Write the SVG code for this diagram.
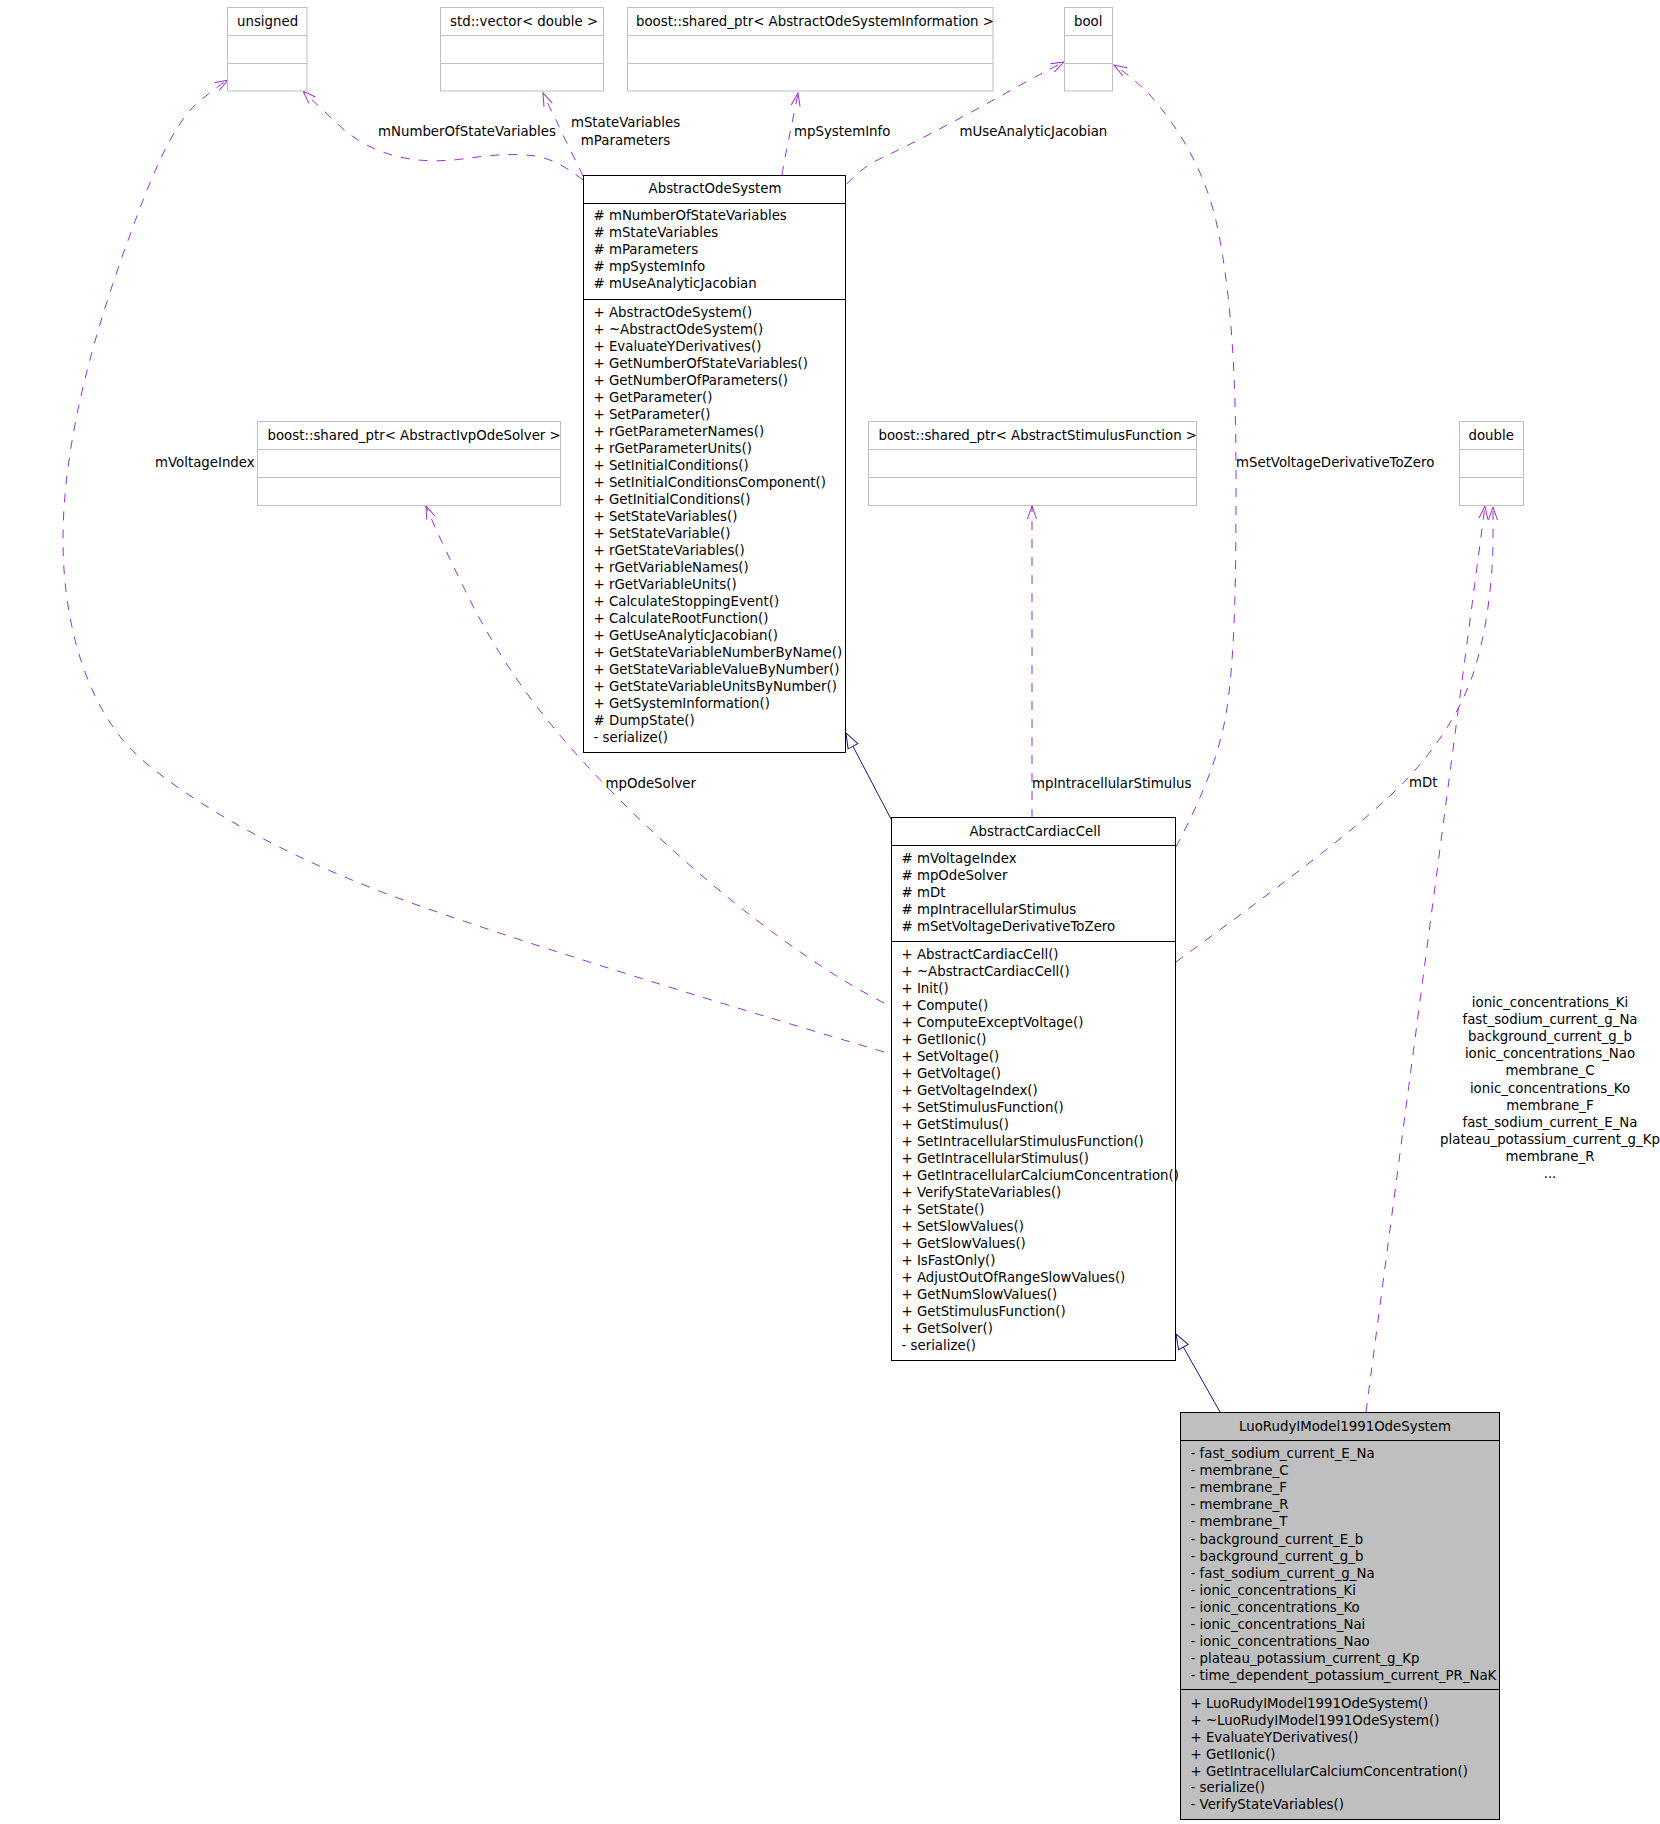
<svg xmlns="http://www.w3.org/2000/svg" width="1660" height="1824" viewBox="0 0 1660 1824">
<style>
text{font-family:"DejaVu Sans","Liberation Sans",sans-serif;font-size:13.33px;fill:#000}
.n{fill:#fff;stroke:#000;stroke-width:1}
.h{fill:#bfbfbf;stroke:#000;stroke-width:1}
.g{fill:#fff;stroke:#bfbfbf;stroke-width:1}
.s{stroke:#000;stroke-width:1}
.gs{stroke:#bfbfbf;stroke-width:1}
.u{fill:none;stroke:#9a32cd;stroke-width:1;stroke-dasharray:9,9;marker-end:url(#open)}
.i{fill:none;stroke:#191970;stroke-width:1;marker-end:url(#tri)}
.c{text-anchor:middle}
</style>
<defs>
<marker id="open" markerUnits="userSpaceOnUse" markerWidth="16" markerHeight="12" viewBox="-1 -6 16 12" refX="13" refY="0" orient="auto">
<path d="M0,-4.5 L13,0 L0,4.5" fill="none" stroke="#9a32cd" stroke-width="1"/>
</marker>
<marker id="tri" markerUnits="userSpaceOnUse" markerWidth="18" markerHeight="14" viewBox="-1 -7 18 14" refX="15" refY="0" orient="auto">
<path d="M0,-5.5 L15,0 L0,5.5 Z" fill="#fff" stroke="#191970" stroke-width="1"/>
</marker>
</defs>
<rect width="1660" height="1824" fill="#fff"/>

<g id="connectors">
<path class="u" d="M583,180 C565,166 552,159 535,156 C515,153 490,155 470,158 C450,161 430,162 410,159 C385,155 360,145 340,126 C325,112 312,100 303,91"/>
<path class="u" d="M583,176 C578,165 565,140 556,120 C550,108 546,100 543,93"/>
<path class="u" d="M782,175 C785,155 793,120 798,93"/>
<path class="u" d="M847,184 C855,175 865,165 890,154 C930,135 990,102 1015,88 C1035,77 1050,69 1064,62"/>
<path class="u" d="M1176,847 C1195,810 1215,770 1225,720 C1236,660 1236,560 1236,480 C1236,380 1232,300 1218,230 C1208,180 1185,135 1150,95 C1135,80 1122,70 1114,65"/>
<path class="u" d="M1032,818 L1032,506"/>
<path class="u" d="M1176,962 C1240,915 1330,850 1380,805 C1420,770 1455,725 1472,677 C1485,640 1492,590 1493,545 L1493,507"/>
<path class="u" d="M1366,1412 L1485,506"/>
<path class="u" d="M884,1052 C750,1012 560,955 420,906 C300,864 200,810 140,758 C85,708 63,620 63,540 C63,440 95,330 130,235 C150,180 170,130 195,105 C208,94 218,86 228,80"/>
<path class="u" d="M884,1003 C800,960 700,880 620,800 C560,740 510,680 470,600 C455,570 438,535 426,506"/>
<path class="i" d="M891,819 L846,733"/>
<path class="i" d="M1220,1412 L1176,1334"/>
<text x="378" y="135.5">mNumberOfStateVariables</text>
<text class="c" x="625.5" y="127">mStateVariables</text>
<text class="c" x="625.5" y="144.5">mParameters</text>
<text x="794" y="135.5">mpSystemInfo</text>
<text x="959.5" y="135.5">mUseAnalyticJacobian</text>
<text x="1236" y="466.5">mSetVoltageDerivativeToZero</text>
<text x="155" y="466.5">mVoltageIndex</text>
<text x="605.5" y="787.5">mpOdeSolver</text>
<text x="1032" y="787.5">mpIntracellularStimulus</text>
<text x="1409" y="787">mDt</text>
<text class="c" x="1550"><tspan x="1550" y="1006.7">ionic_concentrations_Ki</tspan><tspan x="1550" y="1023.9">fast_sodium_current_g_Na</tspan><tspan x="1550" y="1041">background_current_g_b</tspan><tspan x="1550" y="1058.2">ionic_concentrations_Nao</tspan><tspan x="1550" y="1075.4">membrane_C</tspan><tspan x="1550" y="1092.6">ionic_concentrations_Ko</tspan><tspan x="1550" y="1109.7">membrane_F</tspan><tspan x="1550" y="1126.9">fast_sodium_current_E_Na</tspan><tspan x="1550" y="1144.1">plateau_potassium_current_g_Kp</tspan><tspan x="1550" y="1161.2">membrane_R</tspan><tspan x="1550" y="1178.4">...</tspan></text>
</g>

<g id="node-unsigned">
<rect class="g" x="227.5" y="7.5" width="79.5" height="83.5"/>
<line class="gs" x1="227.5" y1="35.5" x2="307" y2="35.5"/>
<line class="gs" x1="227.5" y1="63.5" x2="307" y2="63.5"/>
<text x="237" y="25.5">unsigned</text>
</g>
<g id="node-vector">
<rect class="g" x="440.5" y="7.5" width="163" height="83.5"/>
<line class="gs" x1="440.5" y1="35.5" x2="603.5" y2="35.5"/>
<line class="gs" x1="440.5" y1="63.5" x2="603.5" y2="63.5"/>
<text x="450" y="25.5">std::vector&lt; double &gt;</text>
</g>
<g id="node-sysinfo">
<rect class="g" x="627.5" y="7.5" width="365.5" height="83.5"/>
<line class="gs" x1="627.5" y1="35.5" x2="993" y2="35.5"/>
<line class="gs" x1="627.5" y1="63.5" x2="993" y2="63.5"/>
<text x="636" y="25.5">boost::shared_ptr&lt; AbstractOdeSystemInformation &gt;</text>
</g>
<g id="node-bool">
<rect class="g" x="1064.5" y="7.5" width="48" height="83.5"/>
<line class="gs" x1="1064.5" y1="35.5" x2="1112.5" y2="35.5"/>
<line class="gs" x1="1064.5" y1="63.5" x2="1112.5" y2="63.5"/>
<text x="1074" y="25.5">bool</text>
</g>
<g id="node-solver">
<rect class="g" x="257.5" y="421.5" width="303" height="84"/>
<line class="gs" x1="257.5" y1="449.5" x2="560.5" y2="449.5"/>
<line class="gs" x1="257.5" y1="477.5" x2="560.5" y2="477.5"/>
<text x="267.5" y="440">boost::shared_ptr&lt; AbstractIvpOdeSolver &gt;</text>
</g>
<g id="node-stimulus">
<rect class="g" x="868.5" y="421.5" width="328" height="84"/>
<line class="gs" x1="868.5" y1="449.5" x2="1196.5" y2="449.5"/>
<line class="gs" x1="868.5" y1="477.5" x2="1196.5" y2="477.5"/>
<text x="878.5" y="440">boost::shared_ptr&lt; AbstractStimulusFunction &gt;</text>
</g>
<g id="node-double">
<rect class="g" x="1459.5" y="421.5" width="64" height="84"/>
<line class="gs" x1="1459.5" y1="449.5" x2="1523.5" y2="449.5"/>
<line class="gs" x1="1459.5" y1="477.5" x2="1523.5" y2="477.5"/>
<text x="1468.5" y="440">double</text>
</g>

<g id="node-AbstractOdeSystem">
<rect class="n" x="583.5" y="175.5" width="262" height="577"/>
<line class="s" x1="583.5" y1="203.5" x2="845.5" y2="203.5"/>
<line class="s" x1="583.5" y1="299.5" x2="845.5" y2="299.5"/>
<text class="c" x="715" y="193">AbstractOdeSystem</text>
<text>
<tspan x="593.5" y="220"># mNumberOfStateVariables</tspan>
<tspan x="593.5" y="237"># mStateVariables</tspan>
<tspan x="593.5" y="254"># mParameters</tspan>
<tspan x="593.5" y="271"># mpSystemInfo</tspan>
<tspan x="593.5" y="288"># mUseAnalyticJacobian</tspan>
<tspan x="593.5" y="316.5">+ AbstractOdeSystem()</tspan>
<tspan x="593.5" y="333.5">+ ~AbstractOdeSystem()</tspan>
<tspan x="593.5" y="350.5">+ EvaluateYDerivatives()</tspan>
<tspan x="593.5" y="367.5">+ GetNumberOfStateVariables()</tspan>
<tspan x="593.5" y="384.5">+ GetNumberOfParameters()</tspan>
<tspan x="593.5" y="401.5">+ GetParameter()</tspan>
<tspan x="593.5" y="418.5">+ SetParameter()</tspan>
<tspan x="593.5" y="435.5">+ rGetParameterNames()</tspan>
<tspan x="593.5" y="452.5">+ rGetParameterUnits()</tspan>
<tspan x="593.5" y="469.5">+ SetInitialConditions()</tspan>
<tspan x="593.5" y="486.5">+ SetInitialConditionsComponent()</tspan>
<tspan x="593.5" y="503.5">+ GetInitialConditions()</tspan>
<tspan x="593.5" y="520.5">+ SetStateVariables()</tspan>
<tspan x="593.5" y="537.5">+ SetStateVariable()</tspan>
<tspan x="593.5" y="554.5">+ rGetStateVariables()</tspan>
<tspan x="593.5" y="571.5">+ rGetVariableNames()</tspan>
<tspan x="593.5" y="588.5">+ rGetVariableUnits()</tspan>
<tspan x="593.5" y="605.5">+ CalculateStoppingEvent()</tspan>
<tspan x="593.5" y="622.5">+ CalculateRootFunction()</tspan>
<tspan x="593.5" y="639.5">+ GetUseAnalyticJacobian()</tspan>
<tspan x="593.5" y="656.5">+ GetStateVariableNumberByName()</tspan>
<tspan x="593.5" y="673.5">+ GetStateVariableValueByNumber()</tspan>
<tspan x="593.5" y="690.5">+ GetStateVariableUnitsByNumber()</tspan>
<tspan x="593.5" y="707.5">+ GetSystemInformation()</tspan>
<tspan x="593.5" y="724.5"># DumpState()</tspan>
<tspan x="593.5" y="741.5">- serialize()</tspan>
</text>
</g>

<g id="node-AbstractCardiacCell">
<rect class="n" x="891.5" y="817.5" width="284" height="543"/>
<line class="s" x1="891.5" y1="845.5" x2="1175.5" y2="845.5"/>
<line class="s" x1="891.5" y1="941.5" x2="1175.5" y2="941.5"/>
<text class="c" x="1035" y="835.5">AbstractCardiacCell</text>
<text>
<tspan x="901.5" y="863"># mVoltageIndex</tspan>
<tspan x="901.5" y="880"># mpOdeSolver</tspan>
<tspan x="901.5" y="897"># mDt</tspan>
<tspan x="901.5" y="914"># mpIntracellularStimulus</tspan>
<tspan x="901.5" y="931"># mSetVoltageDerivativeToZero</tspan>
<tspan x="901.5" y="959">+ AbstractCardiacCell()</tspan>
<tspan x="901.5" y="976">+ ~AbstractCardiacCell()</tspan>
<tspan x="901.5" y="993">+ Init()</tspan>
<tspan x="901.5" y="1010">+ Compute()</tspan>
<tspan x="901.5" y="1027">+ ComputeExceptVoltage()</tspan>
<tspan x="901.5" y="1044">+ GetIIonic()</tspan>
<tspan x="901.5" y="1061">+ SetVoltage()</tspan>
<tspan x="901.5" y="1078">+ GetVoltage()</tspan>
<tspan x="901.5" y="1095">+ GetVoltageIndex()</tspan>
<tspan x="901.5" y="1112">+ SetStimulusFunction()</tspan>
<tspan x="901.5" y="1129">+ GetStimulus()</tspan>
<tspan x="901.5" y="1146">+ SetIntracellularStimulusFunction()</tspan>
<tspan x="901.5" y="1163">+ GetIntracellularStimulus()</tspan>
<tspan x="901.5" y="1180">+ GetIntracellularCalciumConcentration()</tspan>
<tspan x="901.5" y="1197">+ VerifyStateVariables()</tspan>
<tspan x="901.5" y="1214">+ SetState()</tspan>
<tspan x="901.5" y="1231">+ SetSlowValues()</tspan>
<tspan x="901.5" y="1248">+ GetSlowValues()</tspan>
<tspan x="901.5" y="1265">+ IsFastOnly()</tspan>
<tspan x="901.5" y="1282">+ AdjustOutOfRangeSlowValues()</tspan>
<tspan x="901.5" y="1299">+ GetNumSlowValues()</tspan>
<tspan x="901.5" y="1316">+ GetStimulusFunction()</tspan>
<tspan x="901.5" y="1333">+ GetSolver()</tspan>
<tspan x="901.5" y="1350">- serialize()</tspan>
</text>
</g>

<g id="node-LuoRudyIModel1991OdeSystem">
<rect class="h" x="1180.5" y="1412.5" width="319" height="407"/>
<line class="s" x1="1180.5" y1="1440.5" x2="1499.5" y2="1440.5"/>
<line class="s" x1="1180.5" y1="1689.5" x2="1499.5" y2="1689.5"/>
<text class="c" x="1345" y="1430.5">LuoRudyIModel1991OdeSystem</text>
<text>
<tspan x="1190.5" y="1458.3">- fast_sodium_current_E_Na</tspan>
<tspan x="1190.5" y="1475.3">- membrane_C</tspan>
<tspan x="1190.5" y="1492.4">- membrane_F</tspan>
<tspan x="1190.5" y="1509.4">- membrane_R</tspan>
<tspan x="1190.5" y="1526.4">- membrane_T</tspan>
<tspan x="1190.5" y="1543.5">- background_current_E_b</tspan>
<tspan x="1190.5" y="1560.5">- background_current_g_b</tspan>
<tspan x="1190.5" y="1577.5">- fast_sodium_current_g_Na</tspan>
<tspan x="1190.5" y="1594.5">- ionic_concentrations_Ki</tspan>
<tspan x="1190.5" y="1611.6">- ionic_concentrations_Ko</tspan>
<tspan x="1190.5" y="1628.6">- ionic_concentrations_Nai</tspan>
<tspan x="1190.5" y="1645.6">- ionic_concentrations_Nao</tspan>
<tspan x="1190.5" y="1662.7">- plateau_potassium_current_g_Kp</tspan>
<tspan x="1190.5" y="1679.7">- time_dependent_potassium_current_PR_NaK</tspan>
<tspan x="1190.5" y="1707.7">+ LuoRudyIModel1991OdeSystem()</tspan>
<tspan x="1190.5" y="1724.6">+ ~LuoRudyIModel1991OdeSystem()</tspan>
<tspan x="1190.5" y="1741.6">+ EvaluateYDerivatives()</tspan>
<tspan x="1190.5" y="1758.5">+ GetIIonic()</tspan>
<tspan x="1190.5" y="1775.5">+ GetIntracellularCalciumConcentration()</tspan>
<tspan x="1190.5" y="1792.4">- serialize()</tspan>
<tspan x="1190.5" y="1809.3">- VerifyStateVariables()</tspan>
</text>
</g>
</svg>
